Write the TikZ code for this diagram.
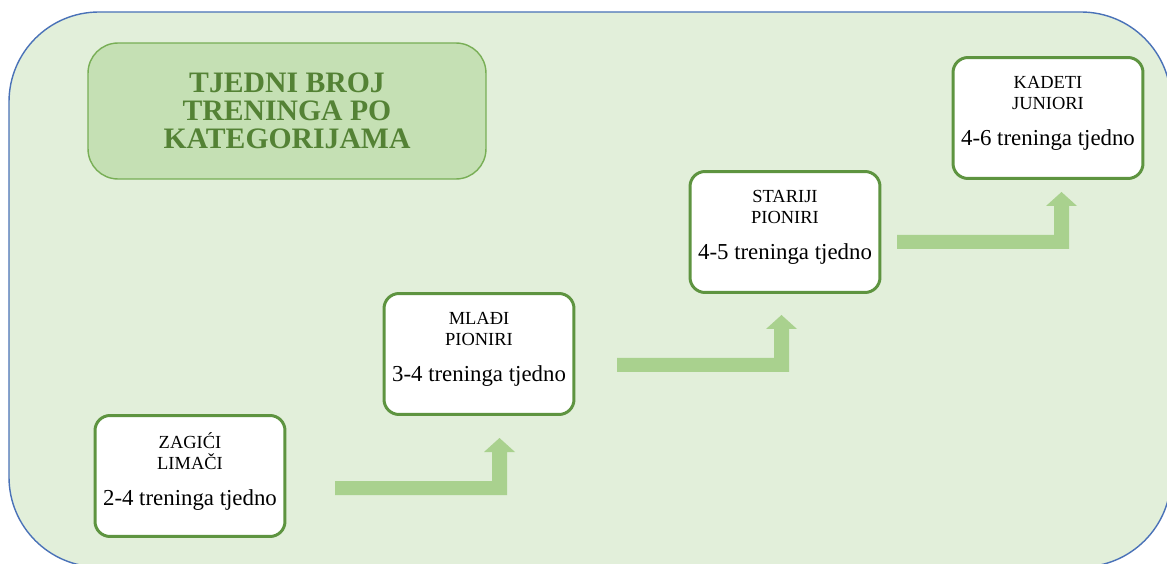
\documentclass[tikz,border=0pt]{standalone}
\usepackage{fontspec}
\setmainfont{Liberation Serif}
\usepackage{tikz}
\usetikzlibrary{arrows}

\definecolor{bggreen}{HTML}{E2EFDA}
\definecolor{bgborder}{HTML}{4A72B8}
\definecolor{headfill}{HTML}{C5E0B4}
\definecolor{headborder}{HTML}{78AE55}
\definecolor{headtext}{HTML}{548235}
\definecolor{boxgreen}{HTML}{5E9440}
\definecolor{arrowgreen}{HTML}{A9D18E}

\newcommand\weekly[1]{{\fontsize{13}{15}\selectfont #1}\rule[-8.4pt]{0pt}{8.4pt}}

\begin{document}
\begin{tikzpicture}[x=0.02cm,y=-0.02cm,>=stealth']

  \tikzstyle{heading}=[rectangle,rounded corners=0.6cm,draw=headborder,line width=0.8pt,fill=headfill,minimum width=7.96cm,minimum height=2.72cm,align=center,text=headtext,font=\bfseries\fontsize{16.9}{16}\selectfont]
  \tikzstyle{category}=[rectangle,rounded corners=0.3cm,draw=boxgreen,line width=1.7pt,fill=white,minimum width=3.8cm,minimum height=2.42cm,align=center,inner sep=2pt,font=\fontsize{10.5}{12}\selectfont]
  \tikzstyle{bent arrow}=[fill=arrowgreen]

  \clip (0,0) rectangle (1167,564);
  \fill[white] (0,0) rectangle (1167,564);
  \draw[draw=bgborder,fill=bggreen,line width=0.8pt,rounded corners=1.8cm] (9,12) rectangle (1171,567);

  \path  (287,111)  node[heading]   (t)   {TJEDNI BROJ\\TRENINGA PO\\KATEGORIJAMA}
         (190,476)  node[category]  (c1)  {ZAGIĆI\\LIMAČI\\[8.4pt]\weekly{2-4 treninga tjedno}}
         (479,354)  node[category]  (c2)  {MLAĐI\\PIONIRI\\[8.4pt]\weekly{3-4 treninga tjedno}}
         (785,232)  node[category]  (c3)  {STARIJI\\PIONIRI\\[8.4pt]\weekly{4-5 treninga tjedno}}
         (1048,118) node[category]  (c4)  {KADETI\\JUNIORI\\[8.4pt]\weekly{4-6 treninga tjedno}};

  \foreach \x/\y in {335/495,617/372,897/249}
    \fill[bent arrow] (\x,\y) -- ++(172,0) -- ++(0,-43) -- ++(8,0) -- ++(-15.5,-14)
        -- ++(-15.5,14) -- ++(8,0) -- ++(0,29) -- ++(-157,0) -- cycle;

\end{tikzpicture}
\end{document}
